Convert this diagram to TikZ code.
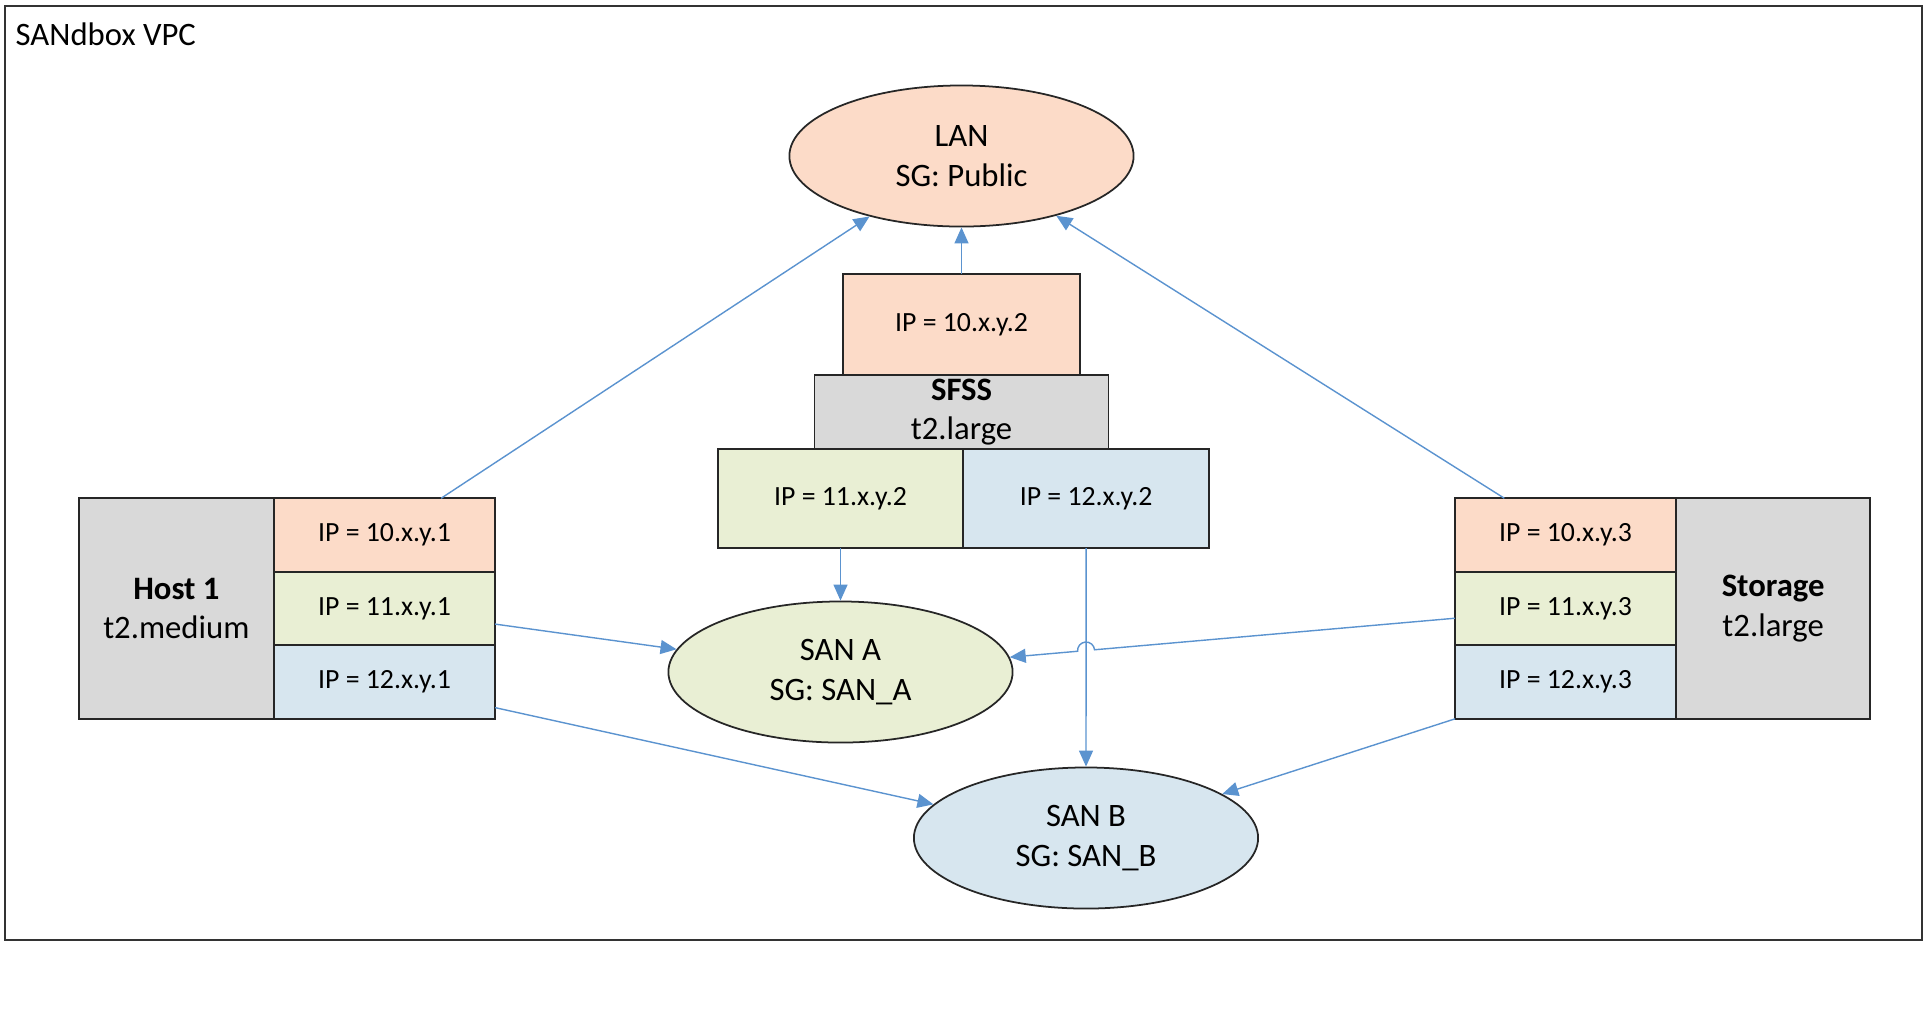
\documentclass[tikz,border=0pt]{standalone}
\usepackage{fontspec}
\setmainfont{Carlito}
\usetikzlibrary{shapes.geometric,positioning,arrows.meta,calc,intersections}

\definecolor{lanfill}{HTML}{FCDBC8}
\definecolor{safill}{HTML}{E9EFD4}
\definecolor{sbfill}{HTML}{D7E6EF}
\definecolor{vmfill}{HTML}{D9D9D9}
\definecolor{linkblue}{HTML}{5B93CF}

\tikzset{
  >={Triangle[length=0.16cm,width=0.14cm]},   % default arrow tip
  box/.style={draw=black!85, line width=0.5pt, rectangle, inner sep=0pt, outer sep=0pt, align=center},
  ipbox/.style={box, minimum width=2.21cm, minimum height=0.735cm, font=\fontsize{7.9}{9.5}\selectfont},
  vmbox/.style={box, fill=vmfill, minimum width=1.95cm, minimum height=2.21cm, font=\fontsize{9.3}{11.2}\selectfont},
  net/.style={draw=black!85, line width=0.5pt, ellipse, inner sep=0pt, minimum width=3.44cm, minimum height=1.41cm, align=center, font=\fontsize{9.3}{11.2}\selectfont},
  link/.style={->, draw=linkblue, line width=0.4pt}
}

\begin{document}
\begin{tikzpicture}[x=0.01cm, y=-0.01cm]

\useasboundingbox (0,0) rectangle (1927,1008);

%==================== VPC frame ====================
\draw[black!80, line width=0.5pt] (5,6) rectangle (1922,940);
\node[anchor=west, inner sep=0pt, font=\fontsize{9.3}{11.2}\selectfont] (vpc) at (15,34) {SANdbox VPC};

%==================== networks ====================
\node[net, fill=lanfill] (lan) at (961.5,156) {LAN\\SG: Public};
\node[net, fill=safill] (sanA) at (840.5,672) {SAN A\\SG: SAN\_A};
\node[net, fill=sbfill] (sanB) at (1086,838) {SAN B\\SG: SAN\_B};

%==================== SFSS ====================
\node[ipbox, fill=lanfill, minimum width=2.37cm, minimum height=1.01cm] (ip10s) at (961.5,324.5) {IP = 10.x.y.2};
\node[vmbox, below=0pt of ip10s, minimum width=2.94cm, minimum height=0.74cm] (sfss) {\textbf{SFSS}\\t2.large};
\node[ipbox, fill=safill, minimum width=2.455cm, minimum height=0.99cm] (ip11s) at (840.5,498.5) {IP = 11.x.y.2};
\node[ipbox, fill=sbfill, right=0pt of ip11s, minimum width=2.455cm, minimum height=0.99cm] (ip12s) {IP = 12.x.y.2};

%==================== Host 1 ====================
\node[ipbox, fill=lanfill] (h10) at (384.5,535) {IP = 10.x.y.1};
\node[ipbox, fill=safill, below=0pt of h10] (h11) {IP = 11.x.y.1};
\node[ipbox, fill=sbfill, below=0pt of h11] (h12) {IP = 12.x.y.1};
\node[vmbox, left=0pt of h11] (host) {\textbf{Host 1}\\t2.medium};

%==================== Storage ====================
\node[ipbox, fill=lanfill] (s10) at (1565.5,535) {IP = 10.x.y.3};
\node[ipbox, fill=safill, below=0pt of s10] (s11) {IP = 11.x.y.3};
\node[ipbox, fill=sbfill, below=0pt of s11] (s12) {IP = 12.x.y.3};
\node[vmbox, right=0pt of s11, minimum width=1.94cm] (stor) {\textbf{Storage}\\t2.large};

%==================== links ====================
% to LAN
\draw[link] (h10.33) -- (lan);
\draw[link] (ip10s.north) -- (lan.south);
\draw[link] (s10.149) -- (lan);

% to SAN A
\draw[link] (ip11s.south) -- (sanA.north);
\draw[link] (h11.-8) -- (sanA);

% to SAN B
\draw[link] (ip12s.south) -- (sanB.north);
\draw[link] (h12.-13) -- (sanB);
\draw[link] (s12.south west) -- (sanB);

% Storage -> SAN A, hopping over the SFSS drop line
\path[name path=drop] (ip12s.south) -- (sanB.north);
\path[name path=cross] (s11.185) -- (sanA);
\path[name intersections={of=drop and cross, by=hop}];
\draw[link] (s11.185) -- ($(hop)!0.085cm!(s11.185)$)
    let \p1=($(s11.185)-(hop)$) in
    arc[start angle={atan2(\y1,\x1)}, delta angle=180, radius=0.085cm] -- (sanA);

\end{tikzpicture}
\end{document}
